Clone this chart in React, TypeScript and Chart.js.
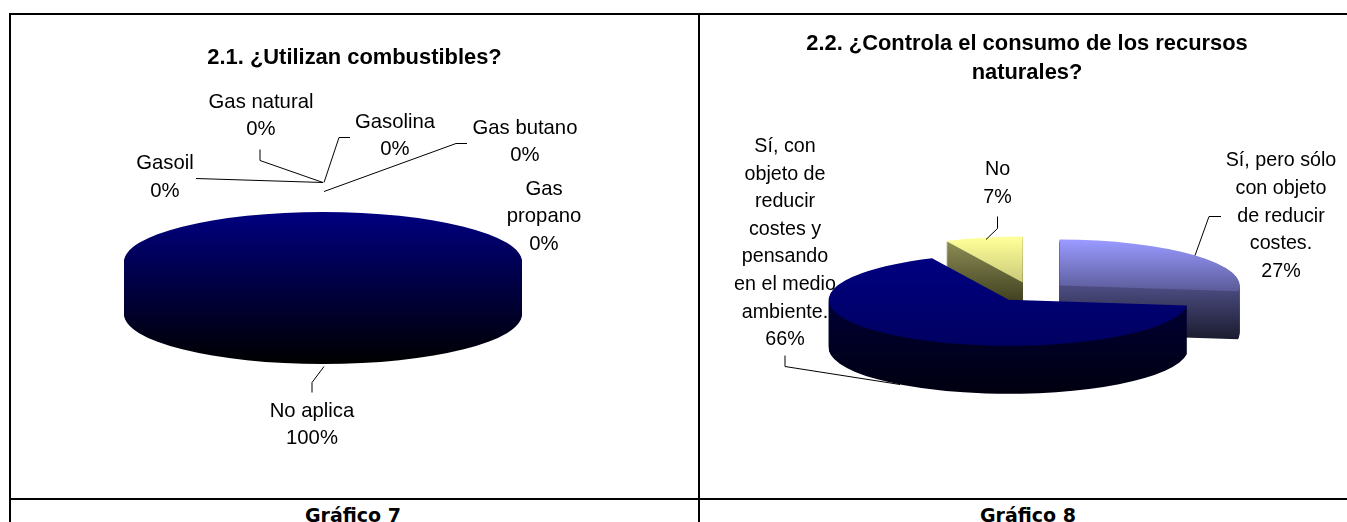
import React, { useEffect, useRef } from "react";
import { Chart, registerables } from "chart.js";

Chart.register(...registerables);

// ---- data ----
const titleA = "2.1. ¿Utilizan combustibles?";
const categoriesA = ["Gasoil", "Gas natural", "Gasolina", "Gas butano", "Gas propano", "No aplica"];
const valuesA = [0, 0, 0, 0, 0, 100];
const baseColorsA = ["#9999ff", "#993366", "#ffffcc", "#ccffff", "#660066", "#000080"];

const titleB = ["2.2. ¿Controla el consumo de los recursos", "naturales?"];
const categoriesB = ["Sí, pero sólo con objeto de reducir costes.", "Sí, con objeto de reducir costes y pensando en el medio ambiente.", "No"];
const valuesB = [27, 66, 7];
const baseColorsB = ["#9999ff", "#000080", "#ffff99"];

const captions = ["Gráfico 7", "Gráfico 8"];

// ---- layout (page pixels) ----
type Pt = [number, number];
type LabelLayout = { lines: string[]; x: number; y: number; leader: Pt[] };

const lineStep = 27.6;
const labelFontFamily = "'Liberation Sans', Arial, sans-serif";
const titleFontFamily = "'Liberation Sans', Arial, sans-serif";

const layoutA: LabelLayout[] = [
  { lines: ["Gasoil"], x: 165, y: 163.5, leader: [[196, 178], [323, 182]] },
  { lines: ["Gas natural"], x: 261, y: 102, leader: [[260, 149], [260, 160], [323, 182]] },
  { lines: ["Gasolina"], x: 395, y: 122, leader: [[350, 137], [339, 137], [324, 182]] },
  { lines: ["Gas butano"], x: 525, y: 128, leader: [[467, 143], [456, 143], [324, 191]] },
  { lines: ["Gas", "propano"], x: 544, y: 189, leader: [] },
  { lines: ["No aplica"], x: 312, y: 411, leader: [[312, 392], [312, 382], [324, 366]] },
];

const layoutB: LabelLayout[] = [
  { lines: ["Sí, pero sólo", "con objeto", "de reducir", "costes."], x: 1281, y: 161, leader: [[1221, 216], [1209, 216], [1195, 255]] },
  { lines: ["Sí, con", "objeto de", "reducir", "costes y", "pensando", "en el medio", "ambiente."], x: 785, y: 146.5, leader: [[785, 355], [785, 366], [900, 384]] },
  { lines: ["No"], x: 997.5, y: 170, leader: [[997.5, 216], [997.5, 228], [986, 239]] },
];

type Face = { top: [number, number, string, string]; side: [number, number, string, string] };

type PieCfg = {
  originX: number;
  originY: number;
  cx: number;
  cy: number;
  rx: number;
  ry: number;
  depth: number;
  explode: number[];
  order: number[];
  faces: Face[];
  layout: LabelLayout[];
  values: number[];
  labelSize: number;
};

const navyContinuous: Face = {
  top: [212, 364, "#000080", "#000000"],
  side: [212, 364, "#000080", "#000000"],
};
const noFace: Face = navyContinuous;

const cfgA: PieCfg = {
  originX: 11,
  originY: 15,
  cx: 323,
  cy: 262,
  rx: 199,
  ry: 50,
  depth: 52,
  explode: [0, 0, 0, 0, 0, 0],
  order: [0, 1, 2, 3, 4, 5],
  faces: [noFace, noFace, noFace, noFace, noFace, navyContinuous],
  layout: layoutA,
  values: valuesA,
  labelSize: 20.3,
};

const cfgB: PieCfg = {
  originX: 700,
  originY: 15,
  cx: 1031,
  cy: 292,
  rx: 180,
  ry: 46,
  depth: 48,
  explode: [38, 38, 38],
  order: [0, 2, 1],
  faces: [
    { top: [241, 296, "#9999ff", "#55558f"], side: [288, 340, "#4b4b80", "#1a1a2e"] },
    { top: [258, 346, "#000080", "#000062"], side: [296, 393, "#000038", "#000010"] },
    { top: [238, 284, "#ffff99", "#c8c878"], side: [242, 302, "#8c8c55", "#404020"] },
  ],
  layout: layoutB,
  values: valuesB,
  labelSize: 19.7,
};

const pie3d = {
  id: "pie3d",
  beforeDatasetDraw(chart: any, args: any, opts: any) {
    const cfg: PieCfg = opts.cfg;
    const ctx: CanvasRenderingContext2D = chart.ctx;
    const k = cfg.ry / cfg.rx;
    const cx = cfg.cx - cfg.originX;
    const cy = cfg.cy - cfg.originY;
    const paint = (arc: any, ox: number, oy: number, drop: number, g: [number, number, string, string]) => {
      ctx.save();
      const py = cy + oy + drop;
      ctx.translate(cx + ox, py);
      ctx.scale(1, k);
      ctx.translate(-arc.x, -arc.y);
      const toLocal = (pageY: number) => arc.y + (pageY - cfg.originY - py) / k;
      const grad = ctx.createLinearGradient(0, toLocal(g[0]), 0, toLocal(g[1]));
      grad.addColorStop(0, g[2]);
      grad.addColorStop(1, g[3]);
      const orig = arc.options;
      arc.options = { ...orig, backgroundColor: grad, borderWidth: 0 };
      arc.draw(ctx);
      arc.options = orig;
      ctx.restore();
    };
    for (const i of cfg.order) {
      const arc = args.meta.data[i];
      if (!arc || !arc.circumference) continue;
      const half = (arc.startAngle + arc.endAngle) / 2;
      const d = cfg.explode[i];
      const ox = Math.cos(half) * d;
      const oy = Math.sin(half) * d * k;
      for (let drop = cfg.depth; drop >= 1; drop--) paint(arc, ox, oy, drop, cfg.faces[i].side);
      paint(arc, ox, oy, 0, cfg.faces[i].top);
    }
    return false;
  },
  afterDraw(chart: any, _args: any, opts: any) {
    const cfg: PieCfg = opts.cfg;
    const ctx: CanvasRenderingContext2D = chart.ctx;
    ctx.save();
    ctx.translate(-cfg.originX, -cfg.originY);
    ctx.fillStyle = "#000";
    ctx.strokeStyle = "#000";
    ctx.lineWidth = 1;
    ctx.font = `${cfg.labelSize}px ${labelFontFamily}`;
    ctx.textAlign = "center";
    ctx.textBaseline = "middle";
    cfg.layout.forEach((l, i) => {
      const lines = [...l.lines, `${cfg.values[i]}%`];
      lines.forEach((t, n) => ctx.fillText(t, l.x, l.y + n * lineStep));
      if (l.leader.length) {
        ctx.beginPath();
        l.leader.forEach(([x, y], n) => (n ? ctx.lineTo(x, y + 0.5) : ctx.moveTo(x, y + 0.5)));
        ctx.stroke();
      }
    });
    ctx.restore();
  },
};

function Pie({
  cfg, labels, colors, title, titleTop, titleLine, width, height,
}: {
  cfg: PieCfg; labels: string[]; colors: string[]; title: string | string[];
  titleTop: number; titleLine: number; width: number; height: number;
}) {
  const ref = useRef<HTMLCanvasElement>(null);
  useEffect(() => {
    const chart = new Chart(ref.current as HTMLCanvasElement, {
      type: "pie",
      data: {
        labels,
        datasets: [{ data: cfg.values, backgroundColor: colors, borderWidth: 0, radius: cfg.rx } as any],
      },
      options: {
        animation: false,
        responsive: false,
        events: [],
        plugins: {
          legend: { display: false },
          tooltip: { enabled: false },
          title: {
            display: true,
            text: title,
            color: "#000",
            padding: { top: titleTop, bottom: 0 },
            font: { family: titleFontFamily, size: 21.9, weight: "bold", lineHeight: titleLine },
          },
          pie3d: { cfg },
        } as any,
      },
      plugins: [pie3d as any],
    });
    return () => chart.destroy();
  }, []);
  return (
    <canvas
      ref={ref}
      width={width}
      height={height}
      style={{ position: "absolute", left: cfg.originX, top: cfg.originY, width, height, display: "block" }}
    />
  );
}

const rule = (left: number, top: number, width: number, height: number): React.CSSProperties => ({
  position: "absolute", left, top, width, height, background: "#000",
});

const captionStyle = (center: number): React.CSSProperties => ({
  position: "absolute",
  left: center - 100,
  top: 503,
  width: 200,
  textAlign: "center",
  font: "bold 19px/24px 'DejaVu Sans', Verdana, sans-serif",
  color: "#000",
  whiteSpace: "nowrap",
});

export default function App() {
  useEffect(() => {
    document.body.style.margin = "0";
    document.body.style.overflow = "hidden";
  }, []);
  return (
    <div style={{ position: "fixed", left: 0, top: 0, width: 1347, height: 522, overflow: "hidden", background: "#fff" }}>
      <Pie cfg={cfgA} labels={categoriesA} colors={baseColorsA} title={titleA} titleTop={29.5} titleLine={1.2} width={687} height={483} />
      <Pie cfg={cfgB} labels={categoriesB} colors={baseColorsB} title={titleB} titleTop={14.5} titleLine={1.32} width={654} height={483} />
      <div style={rule(9, 13, 1338, 2)} />
      <div style={rule(9, 13, 2, 509)} />
      <div style={rule(698, 13, 2, 509)} />
      <div style={rule(9, 498, 1338, 2)} />
      <div style={captionStyle(353)}>{captions[0]}</div>
      <div style={captionStyle(1028)}>{captions[1]}</div>
    </div>
  );
}
